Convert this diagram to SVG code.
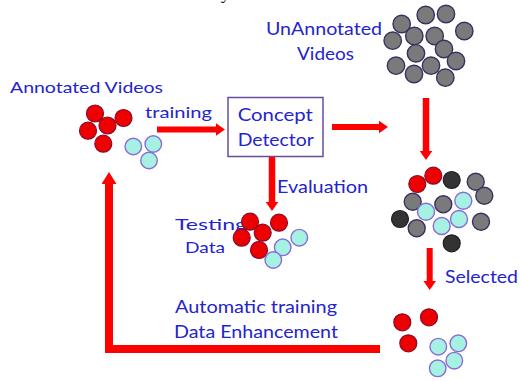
<svg xmlns="http://www.w3.org/2000/svg" width="521" height="381" viewBox="0 0 521 381">
<style>
text{font-family:Lato,"Open Sans","Liberation Sans",sans-serif;fill:#2424cc}
.t16{font-size:16px}
.t17{font-size:17px}
.t18{font-size:18px}
.r{fill:#ee0000;stroke:#8a0a2a;stroke-width:1.2}
.c{fill:#a6f2e2;stroke:#8a6ad8;stroke-width:1.4}
.g{fill:#7a7a7a;stroke:#3a3060;stroke-width:1.4}
.k{fill:#333;stroke:#1e1e2a;stroke-width:1.2}
.conn{fill:none;stroke:#ff0000;stroke-linejoin:miter}
</style>
<defs>
<marker id="ah" viewBox="0 0 10 14" markerWidth="9" markerHeight="14" refX="0" refY="7" orient="auto" markerUnits="userSpaceOnUse">
<path d="M0,0 L10,7 L0,14 Z" fill="#ff0000"/>
</marker>
<marker id="ahb" viewBox="0 0 12 15" markerWidth="12" markerHeight="15" refX="0" refY="7.5" orient="auto" markerUnits="userSpaceOnUse">
<path d="M0,0 L12,7.5 L0,15 Z" fill="#ff0000"/>
</marker>
</defs>
<rect width="521" height="381" fill="#fff"/>
<text x="221" y="-1" style="font-family:'Liberation Serif',serif;font-size:18px;fill:#111">y</text>

<g id="connectors">
<path class="conn" stroke-width="6" d="M157,129.5 H216" marker-end="url(#ah)"/>
<path class="conn" stroke-width="6" d="M332,127 H379" marker-end="url(#ah)"/>
<path class="conn" stroke-width="6.5" d="M426,98 V151" marker-end="url(#ah)"/>
<path class="conn" stroke-width="6.5" d="M272,157 V202" marker-end="url(#ah)"/>
<path class="conn" stroke-width="6" d="M429.7,248 V281" marker-end="url(#ah)"/>
<path class="conn" stroke-width="8" d="M380,349 H109 V184" marker-end="url(#ahb)"/>
</g>

<g id="annotated-videos">
<text class="t16" x="10" y="93" textLength="153" lengthAdjust="spacingAndGlyphs">Annotated Videos</text>
<circle class="r" cx="95" cy="113.5" r="8.5"/>
<circle class="r" cx="123.5" cy="118" r="8.5"/>
<circle class="r" cx="88" cy="130.7" r="8.5"/>
<circle class="r" cx="107.5" cy="125.5" r="8.5"/>
<circle class="r" cx="103.3" cy="143.7" r="8.5"/>
<circle class="c" cx="133.3" cy="146.5" r="8.3"/>
<circle class="c" cx="153.3" cy="144" r="8.3"/>
<circle class="c" cx="149" cy="160.5" r="8.3"/>
</g>

<g id="label-training">
<text class="t16" x="145" y="118" textLength="67" lengthAdjust="spacingAndGlyphs">training</text>
</g>

<g id="concept-detector">
<rect x="228" y="97.5" width="95" height="59" fill="#fff" stroke="#6a4c9c" stroke-width="1.5"/>
<text class="t18" x="237.7" y="121" textLength="75" lengthAdjust="spacingAndGlyphs">Concept</text>
<text class="t18" x="237.7" y="146" textLength="76" lengthAdjust="spacingAndGlyphs">Detector</text>
</g>

<g id="unannotated-videos">
<text class="t17" x="266" y="35" textLength="116" lengthAdjust="spacingAndGlyphs">UnAnnotated</text>
<text class="t17" x="297" y="60" textLength="57" lengthAdjust="spacingAndGlyphs">Videos</text>
<circle class="g" cx="425.7" cy="15" r="8.7"/>
<circle class="g" cx="446" cy="14" r="8.7"/>
<circle class="g" cx="401.7" cy="24" r="8.7"/>
<circle class="g" cx="464.3" cy="31" r="8.7"/>
<circle class="g" cx="392.7" cy="40.7" r="8.7"/>
<circle class="g" cx="414.3" cy="36" r="8.7"/>
<circle class="g" cx="434.7" cy="36" r="8.7"/>
<circle class="g" cx="444" cy="49" r="8.7"/>
<circle class="g" cx="416" cy="53.3" r="8.7"/>
<circle class="g" cx="456" cy="61" r="8.7"/>
<circle class="g" cx="396" cy="65.7" r="8.7"/>
<circle class="g" cx="431" cy="65.7" r="8.7"/>
<circle class="g" cx="414" cy="74" r="8.7"/>
<circle class="g" cx="445.3" cy="77.7" r="8.7"/>
</g>

<g id="label-evaluation">
<text class="t17" x="277" y="193" textLength="91" lengthAdjust="spacingAndGlyphs">Evaluation</text>
</g>

<g id="testing-data">
<text class="t16" x="175" y="230" textLength="72" lengthAdjust="spacingAndGlyphs">Testing</text>
<text class="t16" x="185" y="253" textLength="40" lengthAdjust="spacingAndGlyphs">Data</text>
<circle class="r" cx="250" cy="221.7" r="8.5"/>
<circle class="r" cx="279" cy="222.7" r="8.5"/>
<circle class="r" cx="241.7" cy="237.7" r="8.5"/>
<circle class="r" cx="262.7" cy="232.7" r="8.5"/>
<circle class="r" cx="259" cy="250" r="8.5"/>
<circle class="c" cx="299.3" cy="237.7" r="8.3"/>
<circle class="c" cx="282.7" cy="247.3" r="8.3"/>
<circle class="c" cx="273.3" cy="260" r="8.3"/>
</g>

<g id="mixed-videos">
<circle class="r" cx="417.3" cy="184" r="8.5"/>
<circle class="r" cx="433.3" cy="175.7" r="8.5"/>
<circle class="k" cx="451.7" cy="180" r="8.5"/>
<circle class="g" cx="475.7" cy="181.7" r="8.5"/>
<circle class="g" cx="484.3" cy="195.7" r="8.5"/>
<circle class="g" cx="412.7" cy="201.7" r="8.5"/>
<circle class="g" cx="443.3" cy="204.3" r="8.5"/>
<circle class="c" cx="426" cy="211.7" r="8.5"/>
<circle class="c" cx="463.3" cy="200.7" r="8.5"/>
<circle class="c" cx="459" cy="219" r="8.5"/>
<circle class="c" cx="441.7" cy="226" r="8.5"/>
<circle class="k" cx="400" cy="219" r="8.5"/>
<circle class="g" cx="416.7" cy="228.3" r="8.5"/>
<circle class="g" cx="481" cy="221.7" r="8.5"/>
<circle class="k" cx="451.7" cy="243.3" r="8.5"/>
</g>

<g id="label-selected">
<text class="t17" x="445" y="283" textLength="73" lengthAdjust="spacingAndGlyphs">Selected</text>
</g>

<g id="selected-videos">
<circle class="r" cx="402.3" cy="322.3" r="8.5"/>
<circle class="r" cx="429" cy="317.3" r="8.5"/>
<circle class="r" cx="408.3" cy="343.3" r="8.5"/>
<circle class="c" cx="438.3" cy="346.7" r="8.3"/>
<circle class="c" cx="458.3" cy="343.3" r="8.3"/>
<circle class="c" cx="454.3" cy="360.7" r="8.3"/>
<circle class="c" cx="437.7" cy="368.3" r="8.3"/>
</g>

<g id="label-enhancement">
<text class="t17" x="175" y="313" textLength="162" lengthAdjust="spacingAndGlyphs">Automatic training</text>
<text class="t17" x="174" y="338" textLength="164" lengthAdjust="spacingAndGlyphs">Data Enhancement</text>
</g>
</svg>
